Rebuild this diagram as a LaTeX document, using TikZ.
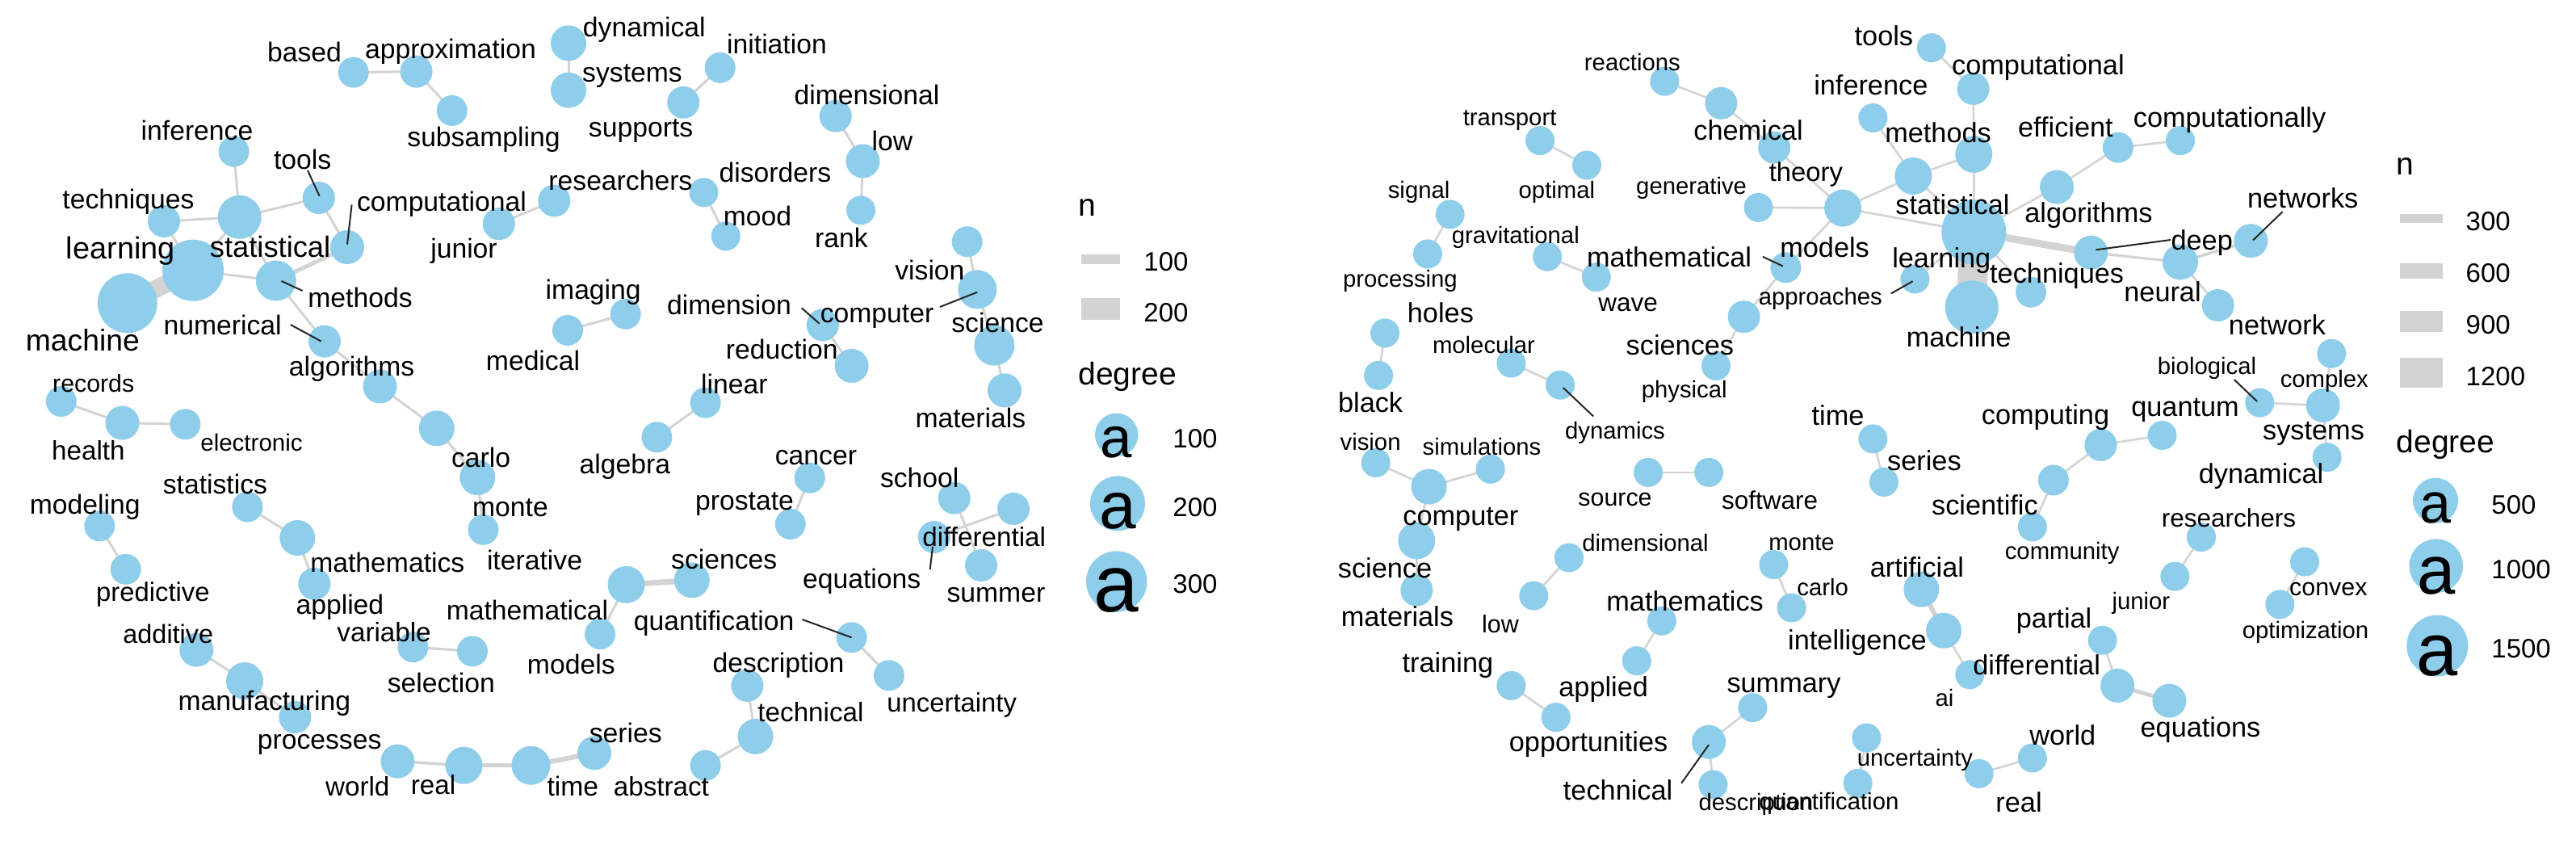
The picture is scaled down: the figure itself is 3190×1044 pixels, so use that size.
\documentclass[tikz,border=0pt]{standalone}
\usepackage{fontspec}
\setmainfont{Liberation Sans}
\definecolor{nodecol}{RGB}{143,206,234}
\definecolor{edgecol}{RGB}{211,211,211}
\pgfdeclarelayer{edgelayer}
\pgfsetlayers{edgelayer,main}
\tikzset{
  vert/.style={circle,fill=nodecol,draw=none,inner sep=0pt,minimum size=#1pt},
  leader/.style={draw=black!85,line width=1pt},
  legbar/.style={draw=edgecol,line width=#1pt},
  legtitle/.style={anchor=west,inner sep=0pt,font=\fontsize{19.5}{19.5}\selectfont},
  legnum/.style={anchor=west,inner sep=0pt,font=\fontsize{16.5}{16.5}\selectfont},
}
\begin{document}
\begin{tikzpicture}[x=0.5pt,y=-0.5pt]
\useasboundingbox (0,0) rectangle (3190,1044);
\begin{pgfonlayer}{edgelayer}
\fill[white] (0,0) rectangle (3190,1044);
\end{pgfonlayer}

% ---------------- LEFT GRAPH: vertices ----------------
\foreach \n/\x/\y/\r in {
based/437.7/89.6/19, approximation/515.6/88.6/20, subsampling/559.8/136.9/19,
inference/289.6/187.6/19, tools/394.8/245/20, techniques/203/274/20,
statistical/296.7/268.8/27, learning/239/334.7/38, machine/157.8/375.3/37,
computational/430/306/21, methods/341.8/347.5/25, numerical/402/422.6/20,
algorithms/470.5/478.4/21, carlo/540.8/530.4/22, monte/591.3/591.1/22,
iterative/598.5/655.8/19, records/75.8/497/19, health/151.5/523.6/21,
electronic/229.4/525.3/19, junior/617.8/277.2/20, researchers/686.3/248.5/20,
medical/703/409/19, imaging/774.7/388.8/19, dynamical/704/53.4/22,
systems/704/111.6/22, supports/846.2/126.8/20, initiation/891.7/83.8/19,
dimensional/1034.8/143.7/20, low/1068.5/199.5/21, rank/1066/260.3/18,
disorders/871.5/238.3/18, mood/898.8/292.4/18, vision/1197.7/299.2/19,
computer/1210.3/358.4/24, science/1231.3/427.7/25, materials/1244/483.4/21,
dimension/1018.8/402.3/20, reduction/1054.6/453/21, linear/873.6/498.6/19,
algebra/813.4/541.3/19, cancer/1002.8/591.7/19, prostate/978.8/649/19,
school/1181.7/616.7/20, differential/1255/630/20, equations/1156.7/665/20,
summer/1215/700/20, statistics/306.4/627.5/19, mathematics/368.3/666/22,
applied/389.3/722.9/20, modeling/123.3/651.3/19, predictive/155.7/704.8/19,
additive/243.3/804.6/21, manufacturing/303/843.1/23, processes/365.3/888/20,
variable/511.4/801.2/19, selection/585/806.3/19, world/492.4/942.6/21,
real/574.5/947.7/23, time/657.5/947.7/24, series/736/932.3/21,
abstract/873.6/947.7/19, technical/935.5/911.9/22, description/925.4/848.9/20,
quantification/1054.6/789.3/19, uncertainty/1100.9/836.3/19,
mathematical/775.5/723.9/23, sciences/856.8/718.4/22, models/743.1/785.2/19}
  {\node[vert=\r] (L-\n) at (\x,\y) {};}

% ---------------- LEFT GRAPH: edges ----------------
\begin{pgfonlayer}{edgelayer}
\foreach \a/\b/\w in {
machine/learning/11, learning/statistical/1.5, learning/techniques/1.5,
learning/methods/1.5, statistical/inference/1.5, statistical/techniques/1.5,
statistical/tools/1.5, statistical/methods/1.5, tools/computational/1.5,
computational/methods/2.5, methods/numerical/1.5, numerical/algorithms/1.5,
algorithms/carlo/1.5, carlo/monte/1.5, monte/iterative/1.5,
based/approximation/1.5, approximation/subsampling/1.5, junior/researchers/1.5,
medical/imaging/1.5, dynamical/systems/1.5, supports/initiation/1.5,
dimensional/low/1.5, low/rank/1.5, disorders/mood/1.5, vision/computer/1.5,
computer/science/1.5, science/materials/1.5, dimension/reduction/1.5,
linear/algebra/1.5, cancer/prostate/1.5, school/summer/1.5,
differential/equations/1.5, records/health/1.5, health/electronic/1.5,
statistics/mathematics/1.5, mathematics/applied/1.5, modeling/predictive/1.5,
additive/manufacturing/1.5, manufacturing/processes/1.5, variable/selection/1.5,
world/real/1.75, real/time/2.5, time/series/3, abstract/technical/1.5,
technical/description/1.5, quantification/uncertainty/1.5,
mathematical/sciences/3.5, mathematical/models/1.5}
  {\draw[draw=edgecol,line width=\w pt] (L-\a.center) -- (L-\b.center);}
\end{pgfonlayer}

% ---------------- LEFT GRAPH: labels ----------------
\foreach \t/\x/\y/\s in {
based/377/64/16.85, approximation/558/64/16.85, subsampling/599/172.4/16.85,
inference/244/161.6/16.85, tools/374.6/197.8/16.85, techniques/159/249.5/16.85,
statistical/334.6/306/18.15, learning/149.4/311/18.95, machine/102.3/421/18.65,
computational/547/253/16.85, methods/446/368.5/16.85, numerical/275.7/402.3/16.85,
algorithms/435.6/456.4/16.85, carlo/595.6/566.2/16.85, monte/632/629/16.85,
iterative/662/693/16.85, records/115.7/475/15.15, health/109.4/557.7/16.6,
electronic/311.5/547.5/14.75, junior/574.5/311/16.85, researchers/768.4/223/16.85,
medical/660/446/16.85, imaging/734.7/361.7/16.85, dynamical/797.8/37.2/16.85,
systems/783/94/16.85, supports/793.6/162.3/16.85, initiation/962/54/16.85,
dimensional/1073.5/117.6/16.85, low/1105/174/16.85, rank/1042/294.8/16.85,
disorders/959.9/213.7/16.85, mood/938/267.7/16.85, vision/1151.4/334.7/16.85,
computer/1086/392/16.85, science/1235.5/399/16.85, materials/1201.9/517.2/16.85,
dimension/903/377/16.85, reduction/968.3/432.7/16.85, linear/909.4/475/16.85,
algebra/773.8/577.4/16.85, cancer/1010.4/566.2/16.85, prostate/922/624/16.85,
school/1138.7/591/16.85, differential/1218.7/665/16.6, equations/1067.2/719.5/16.85,
summer/1233.4/736.5/16.85, statistics/266.4/599.2/16.85, mathematics/479.8/696.6/16.85,
applied/420.9/751.8/16.85, modeling/105.2/627.5/16.85, predictive/189.4/736.5/16.4,
additive/208.3/785.2/16.2, manufacturing/327.4/871/16.85, processes/395.6/922.1/16.85,
variable/475.6/782.5/16.6, selection/546.3/845.5/16.85, world/442.8/973.2/16.6,
real/536.6/971.5/16.6, time/709.4/973.2/16.85, series/774.7/907.8/16.85,
abstract/818.9/973.2/16.6, technical/1004/881.9/16.6, description/964/823.4/16.85,
quantification/884.1/771.6/16.85, uncertainty/1178.7/872.7/16.4,
mathematical/653/755/16.85, sciences/896.7/692.2/16.85, models/707.3/822.7/16.85}
  {\node[inner sep=0pt,font=\fontsize{\s}{\s}\selectfont] (lL-\t) at (\x,\y) {\t};}

% left leaders
\foreach \n/\xa/\ya/\xb/\yb in {
tools/381/211/395.6/242.7, computational/435.6/253.5/430/302.6,
methods/348.5/348/374.6/360, numerical/359.8/402/397.7/422.6,
computer/1164/380/1210.3/361.7, dimension/992.7/381.3/1014.6/400.6,
equations/1155/676.7/1151.7/705, quantification/993.5/767/1054.6/789.3}
  {\coordinate (ldL-\n-a) at (\xa,\ya); \coordinate (ldL-\n-b) at (\xb,\yb);
   \draw[leader] (ldL-\n-a) -- (ldL-\n-b);}

% ---------------- LEFT LEGEND ----------------
\node[legtitle] (lgL-n) at (1335,256.7) {n};
\coordinate (lgL-b1a) at (1339.3,321); \coordinate (lgL-b1b) at (1387.3,321);
\draw[legbar=5.85] (lgL-b1a) -- (lgL-b1b);
\coordinate (lgL-b2a) at (1339.3,382.7); \coordinate (lgL-b2b) at (1387.3,382.7);
\draw[legbar=13.35] (lgL-b2a) -- (lgL-b2b);
\node[legnum] (lgL-t100) at (1416,324.3) {100};
\node[legnum] (lgL-t200) at (1416,387.3) {200};
\node[legtitle] (lgL-deg) at (1335,466.7) {degree};
\node[vert=26.7] (lgL-c1) at (1382.7,538.3) {};
\node[vert=34] (lgL-c2) at (1384,623.3) {};
\node[vert=37.7] (lgL-c3) at (1382.7,720) {};
\node[inner sep=0pt,font=\fontsize{35.5}{35.5}\selectfont] (lgL-a1) at (1382.7,548) {a};
\node[inner sep=0pt,font=\fontsize{41}{41}\selectfont] (lgL-a2) at (1384,633) {a};
\node[inner sep=0pt,font=\fontsize{50}{50}\selectfont] (lgL-a3) at (1382.7,731) {a};
\node[legnum] (lgL-d100) at (1452,543.3) {100};
\node[legnum] (lgL-d200) at (1452,628.3) {200};
\node[legnum] (lgL-d300) at (1452,723.3) {300};

% ---------------- RIGHT GRAPH: vertices ----------------
\foreach \n/\x/\y/\r in {
reactions/2061.4/100.7/18, chemical/2131.4/127.8/20, theory/2197.1/182.6/20,
transport/1907.1/174.1/18, optimal/1965/204.5/18, signal/1795.7/265.4/18,
processing/1767.9/314.4/18, gravitational/1916.1/317.8/18, wave/1976.8/343.1/18,
holes/1715/412.4/18, black/1707.1/464.8/18, molecular/1871.4/449.6/18,
dynamics/1932.1/476.7/18, generative/2177.5/256.9/18, models/2282.1/257.6/23,
mathematical/2211.4/331.3/19, sciences/2159.6/392.2/20, physical/2125/453/18,
tools/2391.8/59.2/18, computational/2443.6/109.9/20, inference/2319.3/146/18,
methods/2444.3/191/23, statistical/2369.3/218/23, learning/2444.3/287.4/40,
machine/2441.8/380.3/33, approaches/2371.4/345.5/18, efficient/2622.9/182.6/19,
computationally/2700/174.1/18, algorithms/2547.1/231.6/21, deep/2589.3/312.7/21,
techniques/2515/361.7/19, neural/2700/324.5/22, network/2746.7/378/20,
networks/2787.3/298.2/21, vision/1703.6/573/18, simulations/1845.7/580.8/18,
computer/1769.6/602.6/22, science/1754.3/669.4/23, materials/1754.3/730.7/20,
source/2041/584.9/18, software/2116.1/584.9/18, dimensional/1942.9/690.5/18,
low/1899.3/737.5/18, mathematics/2057.9/768.8/18, applied/2026.8/818.2/18,
training/1871.4/848.9/18, opportunities/1926.8/888.1/18, technical/2116.1/918.7/21,
description/2121.4/971.5/18, summary/2170.4/876.1/18, time/2319.3/543.4/18,
series/2332.9/596.9/18, computing/2601.4/550.9/20, quantum/2677.5/539/18,
scientific/2542.9/594.5/19, community/2516.8/652.4/18, monte/2196.4/699/18,
carlo/2218.6/752.5/18, artificial/2379.3/729.7/22, intelligence/2407.1/780.8/22,
ai/2439.3/835.3/18, partial/2603.6/792.7/18, differential/2622.1/848.9/21,
equations/2686.4/867.6/21, uncertainty/2311.4/913.6/18, quantification/2300.7/969.8/18,
real/2450.7/957.9/18, world/2516.8/938.5/18, junior/2693.3/713.7/18,
researchers/2726/665/18, complex/2887.3/437.8/18, biological/2798.3/498.6/18,
systems/2876.7/502/21, dynamical/2881.7/566.2/18, convex/2854/695.6/18,
optimization/2823.3/748.4/18}
  {\node[vert=\r] (R-\n) at (\x,\y) {};}

% ---------------- RIGHT GRAPH: edges ----------------
\begin{pgfonlayer}{edgelayer}
\foreach \a/\b/\w in {
reactions/chemical/1.3, chemical/theory/1.3, theory/models/1.3, generative/models/1.3,
models/mathematical/1.3, mathematical/sciences/1.3, sciences/physical/1.3,
transport/optimal/1.3, signal/processing/1.3, gravitational/wave/1.3, holes/black/1.3,
molecular/dynamics/1.3, tools/computational/1.3, computational/methods/1.3,
methods/statistical/1.3, inference/statistical/1.3, statistical/models/1.3,
statistical/learning/1.3, methods/learning/1.3, models/learning/1.3,
learning/machine/18.5, learning/approaches/1.3, learning/algorithms/1.3,
algorithms/efficient/1.3, efficient/computationally/1.3, learning/deep/4.5,
learning/techniques/1.3, deep/neural/1.5, neural/networks/1.8, neural/network/1.3,
vision/computer/1.3, computer/simulations/1.3, computer/science/1.3,
science/materials/1.3, source/software/1.3, dimensional/low/1.3,
mathematics/applied/1.3, training/opportunities/1.3, technical/summary/1.3,
technical/description/1.3, time/series/1.3, computing/quantum/1.3,
computing/scientific/1.3, scientific/community/1.3, monte/carlo/1.3,
artificial/intelligence/3, intelligence/ai/1.3, partial/differential/1.3,
differential/equations/2.5, uncertainty/quantification/1.3, real/world/1.3,
junior/researchers/1.3, biological/systems/1.3, complex/systems/1.3,
systems/dynamical/1.3, convex/optimization/1.3}
  {\draw[draw=edgecol,line width=\w pt] (R-\a.center) -- (R-\b.center);}
\end{pgfonlayer}

% ---------------- RIGHT GRAPH: labels ----------------
\foreach \t/\x/\y/\s in {
reactions/2021.4/77.1/14.65, chemical/2165/161.5/17.15, theory/2236.4/216.4/16.4,
transport/1869.6/148.7/14.65, optimal/1927.9/238.3/14.65, signal/1757.1/238.3/14.65,
processing/1733.9/348.2/14.65, gravitational/1876.8/294.1/14.65, wave/2016.1/377/15.75,
holes/1783.9/387.1/17.15, black/1697.1/498.6/17.15, molecular/1837.5/426.6/14.65,
dynamics/2000/535.5/14.65, generative/2094.6/233.3/14.65, models/2259.6/306/17.15,
mathematical/2067/318/17.15, sciences/2080.4/427.7/17.15, physical/2085.7/485.1/14.65,
tools/2332.9/44.6/17.15, computational/2523.9/83.8/17.15, inference/2316.8/105.5/17.15,
methods/2400/164/17.15, statistical/2417.9/253.5/17.15, learning/2404.3/322.9/17.15,
machine/2425.7/417.5/17.15, approaches/2254.3/370.2/14.65, efficient/2557.9/157.2/17.15,
computationally/2761/148.7/17.15, algorithms/2586.4/267.1/17.15, deep/2726.7/300.9/17.15,
techniques/2547.1/341.4/17.15, neural/2678/361.7/17.15, network/2820/402.3/17.15,
networks/2851.7/245.1/17.15, vision/1697.1/547.5/14.65, simulations/1835/552.6/14.65,
computer/1808.9/642.8/17.15, science/1715/703.5/17.15, materials/1730.4/763.7/17.15,
source/2000/618.3/15.2, software/2191.5/619/15.75, dimensional/2037.5/671.8/14.65,
low/1857.9/772.3/15.2, mathematics/2086.6/744/17.15, applied/1985.7/854/17.15,
training/1792.9/823.3/17.15, opportunities/1967.1/922.1/17.15, technical/2003.6/978.3/17.15,
description/2174.4/996/14.65, summary/2209/852.3/17.15, time/2276/514/17.15,
series/2382.9/570.6/17.15, computing/2533/517/17.15, quantum/2706/508/17.15,
scientific/2457.9/625.1/17.15, community/2553.6/685.4/14.65, monte/2231/671.8/14.65,
carlo/2257.1/727.3/14.65, artificial/2373.9/702.4/17.15, intelligence/2300/795.4/17.15,
ai/2407.9/864.2/14.65, partial/2543.6/768.8/17.15, differential/2522.1/823.3/17.15,
equations/2725/903.5/17.15, uncertainty/2371.4/940.8/14.65, quantification/2265/995.3/14.65,
real/2500/993.6/17.15, world/2554.3/910.2/17.15, junior/2651.4/746.7/14.65,
researchers/2760/641.1/15.75, complex/2878.3/471.6/14.65, biological/2733/456.4/14.65,
systems/2865/537.2/17.15, dynamical/2800/590/17.15, convex/2883.3/729.7/15.2,
optimization/2855/782.5/14.65}
  {\node[inner sep=0pt,font=\fontsize{\s}{\s}\selectfont] (lR-\t) at (\x,\y) {\t};}

% right leaders
\foreach \n/\xa/\ya/\xb/\yb in {
dynamics/1973.2/515.5/1935.7/480, mathematical/2182.9/317.8/2207.9/329.6,
approaches/2341.8/363.4/2368.6/348.2, deep/2688/297/2595.4/309.3,
networks/2826.7/262/2790/297.5, technical/2082.1/969.8/2116.1/922.1,
biological/2766.7/470/2795/497}
  {\coordinate (ldR-\n-a) at (\xa,\ya); \coordinate (ldR-\n-b) at (\xb,\yb);
   \draw[leader] (ldR-\n-a) -- (ldR-\n-b);}

% ---------------- RIGHT LEGEND ----------------
\node[legtitle] (lgR-n) at (2967.3,206.2) {n};
\foreach \k/\yy/\w in {1/270/5.5, 2/335.5/9.3, 3/397.7/13, 4/461.4/18.5}
  {\coordinate (lgR-b\k a) at (2971.7,\yy); \coordinate (lgR-b\k b) at (3025,\yy);
   \draw[legbar=\w] (lgR-b\k a) -- (lgR-b\k b);}
\node[legnum] (lgR-t300) at (3053.3,274.5) {300};
\node[legnum] (lgR-t600) at (3053.3,338) {600};
\node[legnum] (lgR-t900) at (3053.3,402.3) {900};
\node[legnum] (lgR-t1200) at (3053.3,465.9) {1200};
\node[legtitle] (lgR-deg) at (2967.3,550.2) {degree};
\node[vert=28] (lgR-c1) at (3016,619.7) {};
\node[vert=33.3] (lgR-c2) at (3016.7,700.7) {};
\node[vert=38] (lgR-c3) at (3018.3,799.5) {};
\node[inner sep=0pt,font=\fontsize{35}{35}\selectfont] (lgR-a1) at (3016,629.2) {a};
\node[inner sep=0pt,font=\fontsize{42.5}{42.5}\selectfont] (lgR-a2) at (3016.7,713.5) {a};
\node[inner sep=0pt,font=\fontsize{46}{46}\selectfont] (lgR-a3) at (3018.3,812.3) {a};
\node[legnum] (lgR-d500) at (3085,625.1) {500};
\node[legnum] (lgR-d1000) at (3085,704.8) {1000};
\node[legnum] (lgR-d1500) at (3085,802.9) {1500};
\end{tikzpicture}
\end{document}
